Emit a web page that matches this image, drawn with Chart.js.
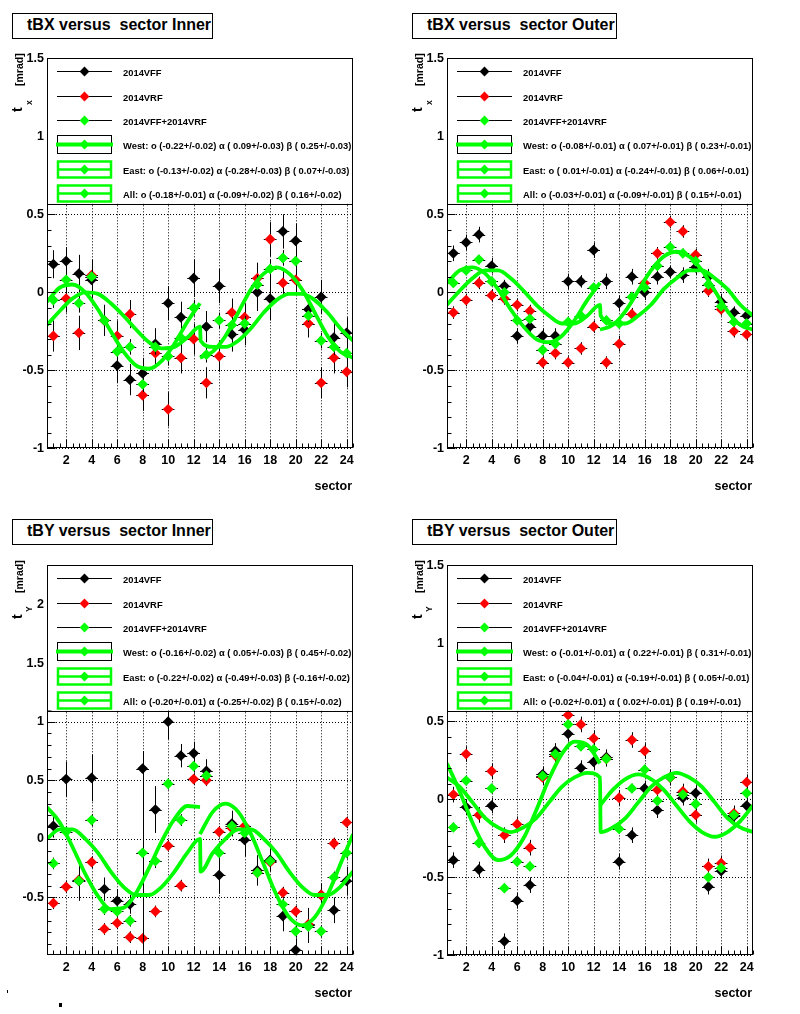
<!DOCTYPE html>
<html>
<head>
<meta charset="utf-8">
<title>tBX / tBY versus sector</title>
<script src="https://cdn.jsdelivr.net/npm/chart.js@4/dist/chart.umd.min.js"></script>
<style>
  html, body { margin: 0; padding: 0; background: #fff; }
  body { position: relative; width: 800px; height: 1014px; overflow: hidden; font-family: "Liberation Sans", Arial, sans-serif; }
  canvas { position: absolute; width: 400px; height: 507px; }
  .title { position: absolute; box-sizing: border-box; height: 26px; border: 1px solid #000; background: #fff;
           font: bold 16px "Liberation Sans", Arial, sans-serif; line-height: 21px; padding-left: 14px; white-space: pre; }
  .speck { position: absolute; background: #000; }
</style>
</head>
<body>
<canvas id="c1" width="400" height="507" style="left:0;top:0"></canvas>
<canvas id="c2" width="400" height="507" style="left:400px;top:0"></canvas>
<canvas id="c3" width="400" height="507" style="left:0;top:507px"></canvas>
<canvas id="c4" width="400" height="507" style="left:400px;top:507px"></canvas>
<div class="title" style="left:12px;top:13px;width:201px">tBX versus  sector Inner</div>
<div class="title" style="left:412px;top:13px;width:205px">tBX versus  sector Outer</div>
<div class="title" style="left:12px;top:519px;width:201px">tBY versus  sector Inner</div>
<div class="title" style="left:412px;top:519px;width:205px">tBY versus  sector Outer</div>
<div class="speck" style="left:7px;top:990px;width:1px;height:3px"></div>
<div class="speck" style="left:59px;top:1003px;width:3px;height:4px"></div>
<script>
// ---- data ----
const sectors = [1, 2, 3, 4, 5, 6, 7, 8, 9, 10, 11, 12, 13, 14, 15, 16, 17, 18, 19, 20, 21, 22, 23, 24];
const xTickValues = [2, 4, 6, 8, 10, 12, 14, 16, 18, 20, 22, 24];
const yTickValues = [-1, -0.5, 0, 0.5, 1, 1.5, 2];
const seriesNames = ['2014VFF', '2014VRF', '2014VFF+2014VRF'];

// sample positions of the drawn fit curves
const westFitX = [0.5, 1.5, 2.5, 3.5, 4.5, 5.5, 6.5, 7.5, 8.5, 9.5, 10.5, 11.5, 12.5];
const eastFitX = [12.5, 13.5, 14.5, 15.5, 16.5, 17.5, 18.5, 19.5, 20.5, 21.5, 22.5, 23.5, 24.5];
const allFitX = [0.5, 1.5, 2.5, 3.5, 4.5, 5.5, 6.5, 7.5, 8.5, 9.5, 10.5, 11.5, 12.5,
                 12.55, 13.5, 14.5, 15.5, 16.5, 17.5, 18.5, 19.5, 20.5, 21.5, 22.5, 23.5, 24.5];

// tBX Inner
const p1Black = [0.18, 0.20, 0.12, 0.08, -0.18, -0.47, -0.56, -0.52, -0.33, -0.07, -0.16, 0.09, -0.22, 0.04, -0.27, -0.24, 0.00, -0.04, 0.39, 0.33, -0.11, -0.03, -0.29, -0.26];
const p1Red = [-0.28, -0.04, -0.26, 0.11, -0.18, -0.28, -0.14, -0.66, -0.39, -0.75, -0.42, -0.30, -0.58, -0.41, -0.13, -0.16, 0.09, 0.34, 0.06, 0.08, -0.20, -0.58, -0.42, -0.51];
const p1Green = [-0.05, 0.08, -0.07, 0.10, -0.18, -0.38, -0.35, -0.59, -0.35, -0.41, -0.29, -0.10, -0.40, -0.18, -0.21, -0.20, 0.05, 0.15, 0.22, 0.20, -0.15, -0.31, -0.35, -0.39];
const p1BlackErr = [0.09, 0.09, 0.12, 0.12, 0.10, 0.11, 0.10, 0.10, 0.10, 0.11, 0.10, 0.12, 0.10, 0.11, 0.11, 0.10, 0.12, 0.14, 0.11, 0.11, 0.07, 0.11, 0.10, 0.10];
const p1RedErr = [0.10, 0.09, 0.11, 0.10, 0.09, 0.10, 0.09, 0.10, 0.09, 0.11, 0.10, 0.10, 0.10, 0.10, 0.09, 0.09, 0.10, 0.11, 0.09, 0.09, 0.09, 0.10, 0.10, 0.10];
const p1GreenErr = [0.05, 0.05, 0.06, 0.05, 0.05, 0.05, 0.05, 0.05, 0.05, 0.06, 0.05, 0.05, 0.05, 0.05, 0.05, 0.05, 0.06, 0.06, 0.05, 0.05, 0.04, 0.05, 0.05, 0.05];
const p1WestFit = [-0.06, 0.03, 0.05, 0.00, -0.11, -0.25, -0.38, -0.47, -0.49, -0.44, -0.33, -0.19, -0.07];
const p1EastFit = [-0.42, -0.38, -0.28, -0.13, 0.02, 0.12, 0.16, 0.12, 0.02, -0.13, -0.28, -0.38, -0.42];
const p1AllFit = [-0.21, -0.12, -0.04, 0.00, -0.01, -0.07, -0.15, -0.24, -0.32, -0.36, -0.35, -0.29, -0.22,
                  -0.31, -0.35, -0.35, -0.31, -0.23, -0.13, -0.05, -0.01, -0.01, -0.05, -0.13, -0.23, -0.31];
const p1FitLabels = ['West: o (-0.22+/-0.02) \u03b1 ( 0.09+/-0.03) \u03b2 ( 0.25+/-0.03)',
                     'East: o (-0.13+/-0.02) \u03b1 (-0.28+/-0.03) \u03b2 ( 0.07+/-0.03)',
                     'All: o (-0.18+/-0.01) \u03b1 (-0.09+/-0.02) \u03b2 ( 0.16+/-0.02)'];

// tBX Outer
const p2Black = [0.25, 0.32, 0.37, 0.17, 0.04, -0.28, -0.22, -0.28, -0.28, 0.07, 0.07, 0.27, 0.07, -0.07, 0.10, 0.00, 0.10, 0.13, 0.11, 0.16, 0.10, -0.06, -0.13, -0.15];
const p2Red = [-0.13, -0.05, 0.06, -0.02, -0.04, -0.08, -0.12, -0.45, -0.39, -0.45, -0.36, -0.22, -0.45, -0.33, -0.14, 0.06, 0.25, 0.45, 0.39, 0.24, 0.01, -0.11, -0.25, -0.27];
const p2Green = [0.06, 0.14, 0.21, 0.07, 0.00, -0.18, -0.17, -0.37, -0.33, -0.19, -0.15, 0.03, -0.18, -0.20, -0.03, 0.03, 0.17, 0.29, 0.25, 0.20, 0.05, -0.09, -0.19, -0.20];
const p2BlackErr = [0.05, 0.05, 0.05, 0.05, 0.04, 0.05, 0.05, 0.05, 0.05, 0.05, 0.04, 0.05, 0.05, 0.05, 0.05, 0.05, 0.05, 0.04, 0.05, 0.05, 0.05, 0.05, 0.04, 0.04];
const p2RedErr = [0.04, 0.04, 0.04, 0.04, 0.04, 0.04, 0.04, 0.04, 0.04, 0.04, 0.04, 0.04, 0.04, 0.05, 0.04, 0.04, 0.04, 0.04, 0.04, 0.04, 0.04, 0.04, 0.04, 0.04];
const p2GreenErr = [0.03, 0.03, 0.03, 0.03, 0.03, 0.03, 0.03, 0.03, 0.03, 0.03, 0.03, 0.03, 0.03, 0.03, 0.03, 0.03, 0.03, 0.03, 0.03, 0.03, 0.03, 0.03, 0.03, 0.03];
const p2WestFit = [0.06, 0.14, 0.16, 0.12, 0.02, -0.11, -0.22, -0.30, -0.32, -0.28, -0.18, -0.05, 0.06];
const p2EastFit = [-0.24, -0.21, -0.12, 0.01, 0.14, 0.23, 0.26, 0.23, 0.14, 0.01, -0.12, -0.21, -0.24];
const p2AllFit = [-0.08, 0.01, 0.09, 0.14, 0.14, 0.09, 0.01, -0.08, -0.15, -0.20, -0.20, -0.15, -0.08,
                  -0.15, -0.20, -0.20, -0.15, -0.08, 0.02, 0.09, 0.14, 0.14, 0.09, 0.02, -0.08, -0.15];
const p2FitLabels = ['West: o (-0.08+/-0.01) \u03b1 ( 0.07+/-0.01) \u03b2 ( 0.23+/-0.01)',
                     'East: o ( 0.01+/-0.01) \u03b1 (-0.24+/-0.01) \u03b2 ( 0.06+/-0.01)',
                     'All: o (-0.03+/-0.01) \u03b1 (-0.09+/-0.01) \u03b2 ( 0.15+/-0.01)'];

// tBY Inner
const p3Black = [0.11, 0.51, -0.36, 0.52, -0.43, -0.53, -0.56, 0.60, 0.25, 1.00, 0.71, 0.73, 0.58, -0.31, 0.13, -0.01, -0.27, -0.18, -0.66, -0.95, -0.74, -0.48, -0.61, -0.36];
const p3Red = [-0.55, -0.41, -0.35, -0.20, -0.77, -0.72, -0.84, -0.85, -0.62, -0.06, -0.40, 0.51, 0.50, 0.06, 0.09, 0.11, -0.29, -0.20, -0.46, -0.62, -0.73, -0.48, -0.04, 0.14];
const p3Green = [-0.21, 0.06, -0.36, 0.16, -0.60, -0.62, -0.70, -0.12, -0.19, 0.47, 0.16, 0.62, 0.54, -0.12, 0.11, 0.05, -0.29, -0.19, -0.56, -0.79, -0.75, -0.79, -0.33, -0.12];
const p3BlackErr = [0.10, 0.15, 0.17, 0.20, 0.10, 0.10, 0.08, 0.15, 0.20, 0.15, 0.10, 0.10, 0.10, 0.16, 0.11, 0.14, 0.13, 0.10, 0.13, 0.10, 0.15, 0.10, 0.11, 0.12];
const p3RedErr = [0.05, 0.05, 0.05, 0.05, 0.05, 0.05, 0.05, 0.05, 0.05, 0.05, 0.05, 0.05, 0.05, 0.05, 0.05, 0.05, 0.05, 0.05, 0.05, 0.05, 0.05, 0.05, 0.05, 0.05];
const p3GreenErr = [0.05, 0.05, 0.05, 0.05, 0.05, 0.05, 0.05, 0.87, 0.06, 0.05, 0.05, 0.05, 0.05, 0.05, 0.05, 0.05, 0.05, 0.05, 0.05, 0.05, 0.05, 0.05, 0.05, 0.05];
const p3WestFit = [0.27, 0.14, -0.07, -0.30, -0.49, -0.60, -0.59, -0.46, -0.25, -0.02, 0.17, 0.28, 0.27];
const p3EastFit = [0.04, 0.23, 0.30, 0.23, 0.04, -0.22, -0.48, -0.67, -0.74, -0.67, -0.48, -0.22, 0.04];
const p3AllFit = [0.00, 0.08, 0.08, 0.00, -0.12, -0.28, -0.41, -0.48, -0.48, -0.41, -0.28, -0.12, 0.00,
                  -0.28, -0.12, 0.00, 0.08, 0.08, 0.00, -0.12, -0.28, -0.41, -0.48, -0.48, -0.41, -0.28];
const p3FitLabels = ['West: o (-0.16+/-0.02) \u03b1 ( 0.05+/-0.03) \u03b2 ( 0.45+/-0.02)',
                     'East: o (-0.22+/-0.02) \u03b1 (-0.49+/-0.03) \u03b2 (-0.16+/-0.02)',
                     'All: o (-0.20+/-0.01) \u03b1 (-0.25+/-0.02) \u03b2 ( 0.15+/-0.02)'];

// tBY Outer
const p4Black = [-0.39, -0.05, -0.45, -0.04, -0.91, -0.65, -0.55, 0.16, 0.31, 0.42, 0.20, 0.24, 0.27, -0.40, -0.23, 0.07, -0.07, 0.14, 0.01, 0.04, -0.56, -0.46, -0.11, -0.04];
const p4Red = [0.03, 0.29, -0.10, 0.18, -0.23, -0.16, -0.31, 0.14, 0.28, 0.54, 0.48, 0.39, 0.26, 0.01, 0.38, 0.31, 0.06, 0.14, 0.05, -0.10, -0.43, -0.41, -0.09, 0.11];
const p4Green = [-0.18, 0.12, -0.28, 0.07, -0.57, -0.40, -0.43, 0.15, 0.29, 0.48, 0.34, 0.32, 0.26, -0.19, 0.07, 0.19, -0.01, 0.14, 0.03, -0.03, -0.50, -0.44, -0.10, 0.04];
const p4BlackErr = [0.05, 0.05, 0.05, 0.05, 0.05, 0.05, 0.05, 0.05, 0.05, 0.05, 0.05, 0.05, 0.05, 0.05, 0.05, 0.05, 0.05, 0.05, 0.05, 0.05, 0.05, 0.05, 0.05, 0.05];
const p4RedErr = [0.05, 0.05, 0.05, 0.05, 0.05, 0.05, 0.05, 0.05, 0.05, 0.05, 0.05, 0.05, 0.05, 0.05, 0.05, 0.05, 0.05, 0.05, 0.05, 0.05, 0.05, 0.05, 0.05, 0.05];
const p4GreenErr = [0.03, 0.03, 0.03, 0.03, 0.03, 0.03, 0.03, 0.03, 0.03, 0.03, 0.03, 0.03, 0.03, 0.03, 0.03, 0.03, 0.03, 0.03, 0.03, 0.03, 0.03, 0.03, 0.03, 0.03];
const p4WestFit = [0.23, 0.05, -0.15, -0.31, -0.39, -0.36, -0.25, -0.07, 0.13, 0.29, 0.37, 0.35, 0.23];
const p4EastFit = [-0.04, 0.06, 0.13, 0.16, 0.13, 0.06, -0.04, -0.14, -0.21, -0.24, -0.21, -0.14, -0.04];
const p4AllFit = [0.14, 0.08, -0.02, -0.12, -0.18, -0.21, -0.18, -0.12, -0.02, 0.08, 0.14, 0.17, 0.14,
                  -0.21, -0.18, -0.12, -0.02, 0.08, 0.14, 0.17, 0.14, 0.08, -0.02, -0.12, -0.18, -0.21];
const p4FitLabels = ['West: o (-0.01+/-0.01) \u03b1 ( 0.22+/-0.01) \u03b2 ( 0.31+/-0.01)',
                     'East: o (-0.04+/-0.01) \u03b1 (-0.19+/-0.01) \u03b2 ( 0.05+/-0.01)',
                     'All: o (-0.02+/-0.01) \u03b1 ( 0.02+/-0.01) \u03b2 ( 0.19+/-0.01)'];

// ---- style ----
const FAM = '"Liberation Sans", Arial, sans-serif';
const BLACK = '#000000', RED = '#ff0000', GREEN = '#00ff00';
const X_HALF = 0.5;          // half bin width drawn as horizontal error
const LEGEND_BOTTOM = 203.5; // panel px
const LEGEND_ROWS = [70.5, 95.5, 119.5, 144, 168.5, 192.5];

function diamond(ctx, x, y, r, color) {
  ctx.fillStyle = color;
  ctx.beginPath();
  ctx.moveTo(x, y - r); ctx.lineTo(x + r, y); ctx.lineTo(x, y + r); ctx.lineTo(x - r, y);
  ctx.closePath(); ctx.fill();
}

function rootLook(p) {
  return {
    id: 'rootLook',
    beforeDatasetsDraw(chart) {
      // dotted grid at the labelled ticks
      const { ctx, chartArea: a, scales: { x, y } } = chart;
      ctx.save();
      ctx.strokeStyle = BLACK; ctx.lineWidth = 1; ctx.setLineDash([1, 2]);
      ctx.beginPath();
      x.ticks.forEach(t => { const px = Math.round(x.getPixelForValue(t.value)) + 0.5; ctx.moveTo(px, a.top); ctx.lineTo(px, a.bottom); });
      y.ticks.forEach(t => { const py = Math.round(y.getPixelForValue(t.value)) + 0.5; ctx.moveTo(a.left, py); ctx.lineTo(a.right, py); });
      ctx.stroke();
      ctx.restore();
    },
    beforeDatasetDraw(chart, args) {
      // error bars, drawn just under each marker set
      const ds = chart.data.datasets[args.index];
      if (!ds.errY) return;
      const { ctx, chartArea: a, scales: { x, y } } = chart;
      ctx.save();
      ctx.beginPath(); ctx.rect(a.left, a.top, a.right - a.left, a.bottom - a.top); ctx.clip();
      ctx.strokeStyle = BLACK; ctx.lineWidth = 1;
      ctx.beginPath();
      ds.data.forEach((pt, i) => {
        const cx = Math.round(x.getPixelForValue(pt.x)) + 0.5;
        const cy = Math.round(y.getPixelForValue(pt.y)) + 0.5;
        ctx.moveTo(x.getPixelForValue(pt.x - X_HALF), cy); ctx.lineTo(x.getPixelForValue(pt.x + X_HALF), cy);
        ctx.moveTo(cx, y.getPixelForValue(pt.y - ds.errY[i])); ctx.lineTo(cx, y.getPixelForValue(pt.y + ds.errY[i]));
      });
      ctx.stroke();
      ctx.restore();
    },
    afterDatasetsDraw(chart) {
      const { ctx, chartArea: a, scales: { x, y } } = chart;
      const L = Math.round(a.left) + 0.5, R = Math.round(a.right) - 0.5;
      const T = Math.round(a.top) + 0.5, B = Math.round(a.bottom) - 0.5;
      ctx.save();
      ctx.strokeStyle = BLACK; ctx.lineWidth = 1;
      ctx.strokeRect(L, T, R - L, B - T);
      // inward tick marks, left and bottom only
      ctx.beginPath();
      for (let i = Math.ceil(y.min * 10); i <= Math.floor(y.max * 10); i++) {
        const py = Math.round(y.getPixelForValue(i / 10)) + 0.5;
        const len = i % 5 === 0 ? 8 : 4;
        ctx.moveTo(L, py); ctx.lineTo(L + len, py);
      }
      for (let i = Math.ceil(x.min * 2); i <= Math.floor(x.max * 2); i++) {
        const px = Math.round(x.getPixelForValue(i / 2)) + 0.5;
        const len = i % 4 === 0 ? 8 : 4;
        ctx.moveTo(px, B); ctx.lineTo(px, B - len);
      }
      ctx.stroke();

      // legend box
      ctx.fillStyle = '#fff';
      ctx.fillRect(L, T, R - L, LEGEND_BOTTOM - T);
      ctx.strokeRect(L, T, R - L, Math.round(LEGEND_BOTTOM) + 0.5 - T);
      const x0 = 57, x1 = 112, xc = 84.5;
      const labels = seriesNames.concat(p.fitLabels);
      LEGEND_ROWS.forEach((ry, k) => {
        const yy = Math.round(ry) + 0.5;
        if (k < 3) {
          ctx.strokeStyle = BLACK; ctx.lineWidth = 1;
          ctx.beginPath(); ctx.moveTo(x0, yy); ctx.lineTo(x1, yy); ctx.stroke();
          diamond(ctx, xc, yy, 4.9, [BLACK, RED, GREEN][k]);
        } else if (k === 3) {
          ctx.strokeStyle = BLACK; ctx.lineWidth = 1;
          ctx.strokeRect(57.5, yy - 9, 54, 18);
          ctx.strokeStyle = GREEN; ctx.lineWidth = 4;
          ctx.beginPath(); ctx.moveTo(56, yy); ctx.lineTo(113, yy); ctx.stroke();
          diamond(ctx, xc, yy, 4.9, GREEN);
        } else {
          ctx.strokeStyle = GREEN; ctx.lineWidth = 2.5;
          ctx.strokeRect(58, yy - 8, 53, 16);
          ctx.beginPath(); ctx.moveTo(58, yy); ctx.lineTo(111, yy); ctx.stroke();
          diamond(ctx, xc, yy, 4.9, GREEN);
        }
        ctx.fillStyle = BLACK;
        ctx.font = 'bold 9.4px ' + FAM;
        ctx.textAlign = 'left'; ctx.textBaseline = 'middle';
        ctx.fillText(labels[k], 123, yy + 1.5, 230);
      });
      ctx.restore();
    },
    afterDraw(chart) {
      const { ctx } = chart;
      ctx.save();
      ctx.fillStyle = BLACK;
      // x axis title
      ctx.font = 'bold 12.5px ' + FAM;
      ctx.textAlign = 'right'; ctx.textBaseline = 'alphabetic';
      ctx.fillText('sector', 352, 490);
      // y axis title t_x [mrad], rotated
      ctx.translate(22, 112);
      ctx.rotate(-Math.PI / 2);
      ctx.textAlign = 'left';
      ctx.font = 'bold 14px ' + FAM; ctx.fillText('t', 0, 0);
      ctx.font = 'bold 8.5px ' + FAM; ctx.fillText(p.sub, 7, 10);
      ctx.font = 'bold 10.5px ' + FAM; ctx.fillText('[mrad]', 26, 0.5);
      ctx.restore();
    }
  };
}

function buildPanel(p) {
  const pts = vals => sectors.map((s, i) => ({ x: s, y: vals[i] }));
  const curve = (xs, vals) => xs.map((v, i) => ({ x: v, y: vals[i] }));
  const marker = (label, color, vals, errs, order) => ({
    label, data: pts(vals), errY: errs, order, showLine: false,
    pointStyle: 'rectRot', pointRadius: 5.4, pointHoverRadius: 5.4, pointBorderWidth: 0,
    pointBackgroundColor: color, backgroundColor: color, borderColor: color
  });
  const fit = (label, xs, vals) => ({
    label, data: curve(xs, vals), order: 0, showLine: true, pointRadius: 0, pointHoverRadius: 0,
    borderColor: GREEN, borderWidth: 3.8, cubicInterpolationMode: 'monotone', fill: false
  });
  const tickFont = { family: FAM, weight: 'bold', size: 12.5 };

  new Chart(document.getElementById(p.id), {
    type: 'scatter',
    data: {
      datasets: [
        marker(seriesNames[0], BLACK, p.black, p.blackErr, 5),
        marker(seriesNames[1], RED, p.red, p.redErr, 4),
        marker(seriesNames[2], GREEN, p.green, p.greenErr, 3),
        fit('West', westFitX, p.west),
        fit('East', eastFitX, p.east),
        fit('All', allFitX, p.all)
      ]
    },
    options: {
      responsive: false,
      animation: false,
      devicePixelRatio: 1,
      events: [],
      layout: { padding: { top: 58.3, right: 47, bottom: 0, left: 0 } },
      plugins: { legend: { display: false }, tooltip: { enabled: false } },
      scales: {
        x: {
          type: 'linear', min: 0.5, max: 24.5,
          grid: { display: false, drawTicks: false }, border: { display: false },
          afterBuildTicks: ax => { ax.ticks = xTickValues.map(v => ({ value: v })); },
          afterFit: ax => { ax.height = 58.7; },
          ticks: { font: tickFont, color: BLACK, padding: 5, autoSkip: false, maxRotation: 0, callback: v => String(v) }
        },
        y: {
          type: 'linear', min: p.yMin, max: p.yMax,
          grid: { display: false, drawTicks: false }, border: { display: false },
          afterBuildTicks: ax => {
            ax.ticks = yTickValues.filter(v => v >= ax.min - 1e-9 && v <= ax.max + 1e-9).map(v => ({ value: v }));
          },
          afterFit: ax => { ax.width = 47; },
          ticks: { font: tickFont, color: BLACK, padding: 3, autoSkip: false, callback: v => String(v) }
        }
      }
    },
    plugins: [rootLook(p)]
  });
}

[
  { id: 'c1', yMin: -1, yMax: 1.5, sub: 'x', black: p1Black, red: p1Red, green: p1Green,
    blackErr: p1BlackErr, redErr: p1RedErr, greenErr: p1GreenErr,
    west: p1WestFit, east: p1EastFit, all: p1AllFit, fitLabels: p1FitLabels },
  { id: 'c2', yMin: -1, yMax: 1.5, sub: 'x', black: p2Black, red: p2Red, green: p2Green,
    blackErr: p2BlackErr, redErr: p2RedErr, greenErr: p2GreenErr,
    west: p2WestFit, east: p2EastFit, all: p2AllFit, fitLabels: p2FitLabels },
  { id: 'c3', yMin: -0.995, yMax: 2.336, sub: 'Y', black: p3Black, red: p3Red, green: p3Green,
    blackErr: p3BlackErr, redErr: p3RedErr, greenErr: p3GreenErr,
    west: p3WestFit, east: p3EastFit, all: p3AllFit, fitLabels: p3FitLabels },
  { id: 'c4', yMin: -1, yMax: 1.5, sub: 'Y', black: p4Black, red: p4Red, green: p4Green,
    blackErr: p4BlackErr, redErr: p4RedErr, greenErr: p4GreenErr,
    west: p4WestFit, east: p4EastFit, all: p4AllFit, fitLabels: p4FitLabels }
].forEach(buildPanel);
</script>
</body>
</html>
